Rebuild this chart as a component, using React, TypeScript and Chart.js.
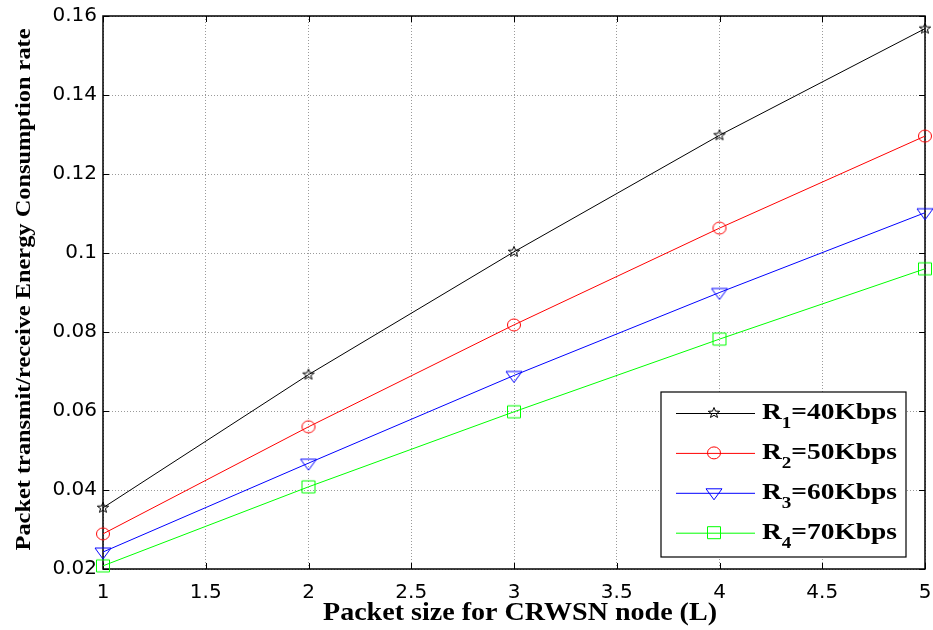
import React, { useEffect, useRef } from "react";
import { Chart, registerables } from "chart.js";

Chart.register(...registerables);

// ---- data ----
const packetSizes = [1, 2, 3, 4, 5];
const r1Values = [0.0355, 0.0692, 0.1003, 0.1298, 0.1568];
const r2Values = [0.0289, 0.056, 0.0818, 0.1063, 0.1296];
const r3Values = [0.0243, 0.0468, 0.069, 0.09, 0.1102];
const r4Values = [0.0208, 0.0408, 0.0598, 0.0782, 0.096];
const seriesValues = [r1Values, r2Values, r3Values, r4Values];
const seriesSubscripts = ["1", "2", "3", "4"];
const seriesRates = ["=40Kbps", "=50Kbps", "=60Kbps", "=70Kbps"];
const seriesColors = ["#000000", "#ff0000", "#0000ff", "#00ff00"];
const seriesMarkers = ["star", "circle", "triangleDown", "square"];
const xTitle = "Packet size for CRWSN node (L)";
const yTitle = "Packet transmit/receive Energy Consumption rate";
const xMin = 1, xMax = 5, xStep = 0.5;
const yMin = 0.02, yMax = 0.16, yStep = 0.02;

const serifBold = (size: number) => `bold ${size}px 'Liberation Serif', 'Times New Roman', serif`;

function drawMarkerPath(ctx: CanvasRenderingContext2D, kind: string, cx: number, cy: number) {
  ctx.beginPath();
  if (kind === "star") {
    const ro = 5.5, ri = 2.3;
    for (let i = 0; i < 10; i++) {
      const r = i % 2 === 0 ? ro : ri;
      const a = -Math.PI / 2 + (i * Math.PI) / 5;
      const px = cx + r * Math.cos(a) * 1.1;
      const py = cy + r * Math.sin(a);
      if (i === 0) ctx.moveTo(px, py); else ctx.lineTo(px, py);
    }
    ctx.closePath();
  } else if (kind === "circle") {
    ctx.ellipse(cx, cy, 6.5, 6, 0, 0, Math.PI * 2);
  } else if (kind === "triangleDown") {
    ctx.moveTo(cx - 8, cy - 4);
    ctx.lineTo(cx + 8, cy - 4);
    ctx.lineTo(cx, cy + 7);
    ctx.closePath();
  } else {
    ctx.rect(cx - 6.5, cy - 6, 13, 12);
  }
}

function makeMarker(kind: string, color: string): HTMLCanvasElement {
  const c = document.createElement("canvas");
  c.width = 22;
  c.height = 22;
  const ctx = c.getContext("2d")!;
  ctx.strokeStyle = color;
  ctx.lineWidth = 1;
  drawMarkerPath(ctx, kind, 11, 11);
  ctx.stroke();
  return c;
}

function drawStretchedText(ctx: CanvasRenderingContext2D, text: string, font: string, targetWidth: number) {
  ctx.font = font;
  const w = ctx.measureText(text).width;
  const sx = targetWidth / w;
  ctx.scale(sx, 1);
  ctx.textAlign = "center";
  ctx.textBaseline = "alphabetic";
  ctx.fillText(text, 0, 0);
}

const boxPlugin = {
  id: "matlabBox",
  beforeDatasetsDraw(chart: any) {
    const { ctx, chartArea } = chart;
    const { left, right, top, bottom } = chartArea;
    const xs = chart.scales.x;
    const ys = chart.scales.y;
    ctx.save();
    ctx.strokeStyle = "#000";
    ctx.lineWidth = 1;
    ctx.beginPath();
    const tl = 6;
    xs.ticks.forEach((t: any) => {
      const px = Math.round(xs.getPixelForValue(t.value)) + 0.5;
      ctx.moveTo(px, bottom);
      ctx.lineTo(px, bottom - tl);
      ctx.moveTo(px, top);
      ctx.lineTo(px, top + tl);
    });
    ys.ticks.forEach((t: any) => {
      const py = Math.round(ys.getPixelForValue(t.value)) + 0.5;
      ctx.moveTo(left, py);
      ctx.lineTo(left + tl, py);
      ctx.moveTo(right, py);
      ctx.lineTo(right - tl, py);
    });
    ctx.stroke();
    ctx.lineWidth = 1.5;
    ctx.strokeRect(left, top, right - left, bottom - top);
    ctx.restore();
  },
  afterDraw(chart: any) {
    const { ctx, chartArea } = chart;
    const { left, right, top, bottom } = chartArea;
    ctx.save();
    ctx.fillStyle = "#000";
    ctx.save();
    ctx.translate((left + right) / 2 + 6, bottom + 51);
    drawStretchedText(ctx, xTitle, serifBold(25), 394);
    ctx.restore();
    ctx.save();
    ctx.translate(30, (top + bottom) / 2 - 3);
    ctx.rotate(-Math.PI / 2);
    drawStretchedText(ctx, yTitle, serifBold(21), 522);
    ctx.restore();
    ctx.restore();
  },
};

const legendPlugin = {
  id: "matlabLegend",
  afterDatasetsDraw(chart: any) {
    const { ctx, chartArea } = chart;
    const bx = chartArea.right - 264;
    const by = chartArea.bottom - 177;
    const bw = 245;
    const bh = 165;
    ctx.save();
    ctx.fillStyle = "#ffffff";
    ctx.fillRect(bx, by, bw, bh);
    ctx.strokeStyle = "#000";
    ctx.lineWidth = 1.2;
    ctx.strokeRect(bx, by, bw, bh);
    seriesValues.forEach((_, i) => {
      const rowY = by + 21 + i * 39.9;
      ctx.strokeStyle = seriesColors[i];
      ctx.lineWidth = 1;
      ctx.beginPath();
      ctx.moveTo(bx + 15, rowY + 0.5);
      ctx.lineTo(bx + 94, rowY + 0.5);
      ctx.stroke();
      drawMarkerPath(ctx, seriesMarkers[i], bx + 53, rowY);
      ctx.stroke();
      const mainFont = serifBold(23);
      const subFont = serifBold(16);
      ctx.font = mainFont;
      const wR = ctx.measureText("R").width;
      const wRate = ctx.measureText(seriesRates[i]).width;
      ctx.font = subFont;
      const wSub = ctx.measureText(seriesSubscripts[i]).width;
      const total = wR + wSub + wRate;
      const sx = 135 / total;
      ctx.save();
      ctx.translate(bx + 101, rowY + 6);
      ctx.scale(sx, 1);
      ctx.fillStyle = "#000";
      ctx.textBaseline = "alphabetic";
      ctx.textAlign = "left";
      ctx.font = mainFont;
      ctx.fillText("R", 0, 0);
      ctx.font = subFont;
      ctx.fillText(seriesSubscripts[i], wR, 9);
      ctx.font = mainFont;
      ctx.fillText(seriesRates[i], wR + wSub, 0);
      ctx.restore();
    });
    ctx.restore();
  },
};

export default function App() {
  const canvasRef = useRef<HTMLCanvasElement | null>(null);

  useEffect(() => {
    const canvas = canvasRef.current;
    if (!canvas) return;
    const datasets = seriesValues.map((vals, i) => ({
      label: "R" + seriesSubscripts[i] + seriesRates[i],
      data: packetSizes.map((x, j) => ({ x, y: vals[j] })),
      borderColor: seriesColors[i],
      backgroundColor: "transparent",
      borderWidth: 1,
      pointStyle: makeMarker(seriesMarkers[i], seriesColors[i]) as any,
      pointRadius: 6,
      pointHoverRadius: 6,
      tension: 0,
      clip: false as any,
    }));
    const chart = new Chart(canvas, {
      type: "line",
      data: { datasets },
      options: {
        animation: false,
        responsive: false,
        devicePixelRatio: 1,
        events: [],
        layout: { padding: { top: 16, right: 8, left: 0, bottom: 0 } },
        plugins: {
          legend: { display: false },
          tooltip: { enabled: false },
        },
        scales: {
          x: {
            type: "linear",
            min: xMin,
            max: xMax,
            afterFit: (s: any) => {
              s.height = 61;
              s.paddingLeft = 0;
              s.paddingRight = 0;
            },
            ticks: {
              stepSize: xStep,
              color: "#000",
              padding: 12,
              maxRotation: 0,
              font: { family: "'DejaVu Sans', sans-serif", size: 20 },
              callback: (v: any) => String(Number(Number(v).toFixed(1))),
            },
            grid: { color: "#9a9a9a", lineWidth: 1, drawTicks: false },
            border: { display: false, dash: [1, 2] },
            title: { display: false },
          },
          y: {
            type: "linear",
            min: yMin,
            max: yMax,
            afterFit: (s: any) => {
              s.width = 103;
              s.paddingTop = 0;
              s.paddingBottom = 0;
            },
            ticks: {
              stepSize: yStep,
              color: "#000",
              padding: 6,
              font: { family: "'DejaVu Sans', sans-serif", size: 20 },
              callback: (v: any) => String(Number(Number(v).toFixed(2))),
            },
            grid: { color: "#9a9a9a", lineWidth: 1, drawTicks: false },
            border: { display: false, dash: [1, 2] },
            title: { display: false },
          },
        },
      },
      plugins: [boxPlugin, legendPlugin],
    });
    return () => chart.destroy();
  }, []);

  return (
    <div style={{ position: "fixed", left: 0, top: 0, width: 933, height: 630, background: "#fff" }}>
      <canvas ref={canvasRef} width={933} height={630} style={{ display: "block" }} />
    </div>
  );
}
